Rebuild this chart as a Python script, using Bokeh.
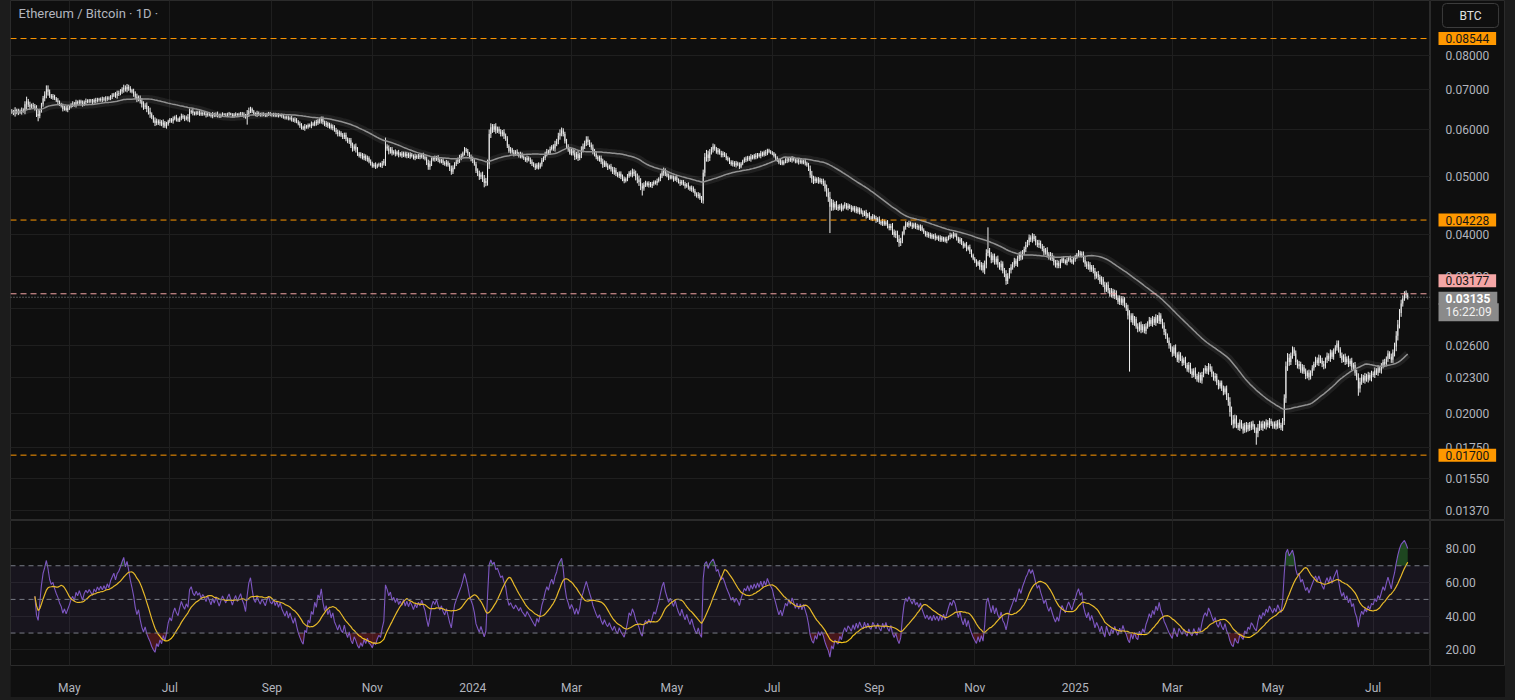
import numpy as np
import pandas as pd
from bokeh.plotting import figure
from bokeh.layouts import column, row
from bokeh.models import (Range1d, FixedTicker, Span, BoxAnnotation, Label, Grid,
                          ColumnDataSource, LogScale)
from bokeh.embed import file_html
from bokeh.resources import INLINE
from bokeh.core.properties import value

# ---------------------------------------------------------------- data
TITLE = "Ethereum / Bitcoin \u00b7 1D \u00b7"
FIRST_DAY = "2023-03-27"

# daily closes, ETH/BTC x 100000
closes_2023 = [
    6440, 6390, 6470, 6410, 6450,  # Mar 27-31
    6420, 6480, 6450, 6620, 6700, 6610, 6560, 6600, 6570, 6520, 6380, 6330, 6450, 6620, 6780,
    6880, 7020, 6950, 6850, 6800, 6830, 6770, 6720, 6680, 6620, 6580, 6500, 6540, 6480, 6520,  # Apr
    6560, 6610, 6640, 6600, 6680, 6650, 6700, 6660, 6620, 6680, 6710, 6690, 6720, 6700, 6680, 6730,
    6710, 6750, 6730, 6760, 6740, 6770, 6750, 6790, 6770, 6820, 6850, 6880, 6850, 6900, 6920,  # May
    6960, 7010, 7060, 7020, 7080, 7040, 6990, 6950, 6900, 6820, 6760, 6790, 6700, 6620, 6560,
    6590, 6500, 6440, 6380, 6290, 6220, 6160, 6210, 6150, 6190, 6120, 6170, 6080, 6130, 6200,  # Jun
    6240, 6200, 6260, 6300, 6250, 6220, 6280, 6330, 6290, 6260, 6300, 6270, 6420, 6450, 6400, 6380,
    6420, 6390, 6410, 6370, 6400, 6380, 6350, 6390, 6360, 6330, 6370, 6340, 6380, 6350, 6320,  # Jul
    6350, 6380, 6360, 6340, 6370, 6390, 6360, 6330, 6360, 6380, 6350, 6370, 6390, 6360, 6340, 6300,
    6380, 6460, 6500, 6440, 6380, 6360, 6400, 6370, 6350, 6380, 6360, 6340, 6370, 6390, 6360,  # Aug
    6350, 6370, 6340, 6360, 6330, 6350, 6320, 6300, 6280, 6300, 6260, 6280, 6250, 6220, 6240,
    6190, 6140, 6100, 6060, 6030, 6080, 6060, 6110, 6090, 6140, 6120, 6180, 6150, 6220, 6200,  # Sep
    6260, 6180, 6120, 6150, 6080, 6110, 6040, 6070, 5990, 5950, 5900, 5930, 5870, 5840, 5880, 5790,
    5730, 5760, 5640, 5580, 5620, 5560, 5470, 5420, 5450, 5380, 5420, 5350, 5380, 5300, 5270,  # Oct
    5210, 5240, 5200, 5230, 5250, 5220, 5270, 5310, 5620, 5580, 5520, 5560, 5480, 5510, 5460,
    5500, 5440, 5470, 5430, 5480, 5420, 5460, 5410, 5450, 5420, 5380, 5420, 5390, 5430, 5400,  # Nov
    5440, 5400, 5360, 5280, 5200, 5260, 5340, 5380, 5350, 5390, 5340, 5300, 5330, 5280, 5250, 5290,
    5230, 5160, 5100, 5180, 5260, 5300, 5340, 5380, 5420, 5480, 5560, 5520, 5470, 5400, 5360,  # Dec
]
closes_2024 = [
    5320, 5250, 5120, 5060, 5000, 5040, 4960, 4880, 4920, 5250, 5900, 6060, 6000, 6080, 5980, 6020,
    5960, 5900, 5940, 5860, 5800, 5640, 5520, 5560, 5500, 5460, 5510, 5470, 5420, 5460, 5400,  # Jan
    5370, 5330, 5380, 5340, 5300, 5260, 5220, 5180, 5240, 5190, 5250, 5330, 5380, 5460, 5520,
    5490, 5570, 5620, 5580, 5680, 5740, 5860, 5920, 5980, 5900, 5740, 5620, 5560, 5480,  # Feb
    5530, 5480, 5400, 5460, 5380, 5440, 5560, 5620, 5700, 5780, 5720, 5660, 5600, 5520, 5460, 5400,
    5350, 5380, 5300, 5240, 5280, 5220, 5180, 5210, 5150, 5100, 5130, 5060, 5020, 5060, 5000,  # Mar
    4960, 4920, 4960, 5010, 5080, 5050, 5100, 5060, 4990, 4950, 4900, 4820, 4780, 4850, 4880,
    4840, 4870, 4830, 4860, 4900, 4880, 4920, 4960, 5020, 5080, 5120, 5060, 5020, 4980, 5010,  # Apr
    4980, 4950, 4990, 4940, 4900, 4870, 4910, 4860, 4820, 4850, 4800, 4760, 4790, 4730, 4680, 4640,
    4670, 4600, 4560, 5080, 5400, 5450, 5380, 5500, 5560, 5620, 5580, 5500, 5540, 5480, 5440,  # May
    5470, 5430, 5380, 5340, 5300, 5250, 5280, 5230, 5270, 5240, 5200, 5260, 5310, 5360, 5340,
    5390, 5350, 5410, 5380, 5430, 5400, 5450, 5420, 5480, 5440, 5500, 5470, 5540, 5510, 5490,  # Jun
    5470, 5420, 5380, 5330, 5280, 5310, 5260, 5300, 5340, 5320, 5360, 5330, 5370, 5340, 5300, 5330,
    5290, 5320, 5280, 5310, 5270, 5230, 5160, 5040, 4960, 4920, 4960, 4910, 4950, 4900, 4920,  # Jul
    4870, 4780, 4700, 4620, 4450, 4520, 4440, 4500, 4450, 4420, 4470, 4410, 4460, 4490, 4430, 4470,
    4440, 4400, 4440, 4380, 4420, 4360, 4400, 4350, 4320, 4360, 4290, 4320, 4270, 4250, 4290,  # Aug
    4260, 4220, 4250, 4200, 4170, 4210, 4160, 4190, 4130, 4100, 4130, 4040, 3990, 4010, 3930,
    3870, 3900, 4010, 4110, 4170, 4140, 4180, 4150, 4120, 4160, 4110, 4130, 4090, 4120, 4070,  # Sep
    4030, 3990, 4010, 3970, 3990, 3950, 3980, 3940, 3960, 3920, 3950, 3910, 3940, 3900, 3930, 3960,
    3990, 3970, 4000, 3980, 3940, 3890, 3920, 3860, 3820, 3850, 3780, 3810, 3740, 3690, 3640,  # Oct
    3600, 3560, 3590, 3520, 3550, 3480, 3560, 3720, 3760, 3690, 3620, 3680, 3590, 3640, 3560,
    3520, 3570, 3470, 3430, 3340, 3400, 3480, 3520, 3560, 3610, 3570, 3640, 3700, 3660, 3730,  # Nov
    3780, 3840, 3880, 3950, 3920, 3970, 3930, 3880, 3840, 3870, 3820, 3780, 3730, 3760, 3700, 3660,
    3690, 3640, 3590, 3550, 3580, 3540, 3600, 3640, 3610, 3580, 3620, 3650, 3620, 3590, 3630,  # Dec
]
closes_2025 = [
    3660, 3700, 3730, 3690, 3710, 3620, 3570, 3530, 3560, 3490, 3520, 3470, 3400, 3430, 3390, 3330,
    3360, 3290, 3230, 3290, 3220, 3170, 3210, 3150, 3190, 3130, 3080, 3120, 3070, 3110, 3040,  # Jan
    3000, 2920, 2870, 2920, 2840, 2880, 2800, 2770, 2820, 2760, 2800, 2750, 2800, 2830,
    2870, 2830, 2880, 2840, 2900, 2860, 2920, 2850, 2810, 2740, 2700, 2650, 2600, 2560,  # Feb
    2520, 2580, 2510, 2460, 2510, 2470, 2430, 2460, 2410, 2370, 2410, 2350, 2320, 2360, 2310, 2280,
    2320, 2270, 2320, 2360, 2380, 2350, 2400, 2370, 2330, 2290, 2310, 2250, 2220, 2250, 2200,  # Mar
    2170, 2200, 2130, 2090, 2010, 1950, 1920, 1960, 1910, 1890, 1930, 1900, 1870, 1910, 1880,
    1910, 1890, 1920, 1900, 1870, 1850, 1890, 1920, 1890, 1920, 1900, 1930, 1910, 1940, 1920,  # Apr
    1900, 1920, 1900, 1930, 1910, 1890, 1940, 2120, 2400, 2480, 2440, 2500, 2560, 2520, 2440, 2400,
    2420, 2360, 2390, 2350, 2310, 2340, 2300, 2340, 2380, 2420, 2460, 2430, 2480, 2450, 2420,  # May
    2400, 2460, 2500, 2470, 2530, 2490, 2540, 2580, 2620, 2560, 2500, 2460, 2490, 2440, 2470,
    2420, 2450, 2390, 2410, 2340, 2300, 2200, 2260, 2300, 2270, 2310, 2280, 2320, 2290, 2330,  # Jun
    2320, 2360, 2340, 2380, 2360, 2400, 2440, 2420, 2470, 2520, 2490,
    2460, 2530, 2590, 2700, 2820, 2950, 3060, 3120, 3180, 3160, 3135,  # Jul 1-22
]

# estimated wick length beyond the candle body, one digit per day (x 0.3 % of price)
wick_2023 = [
    "32423",                                   # Mar 27-31
    "23246 34233 46323 45532 32232 23223",     # Apr
    "22323 22232 32223 23222 32322 23234 3",   # May
    "33434 33243 43344 34452 34323 24232",     # Jun
    "22323 22323 24523 22232 22322 23223 2",   # Jul
    "22122 21222 12223 25432 22322 22222 2",   # Aug
    "22222 12222 22323 22332 32223 22323",     # Sep
    "33232 32323 33233 32334 34323 23232 3",   # Oct
    "22322 23363 43323 23232 23232 23223",     # Nov
    "23234 43232 32232 32343 23343 23232 3",   # Dec
]
wick_2024 = [
    "32334 34546 65434 33334 33232 32323 2",   # Jan
    "22323 32323 23233 23234 34543 3332",      # Feb
    "33434 34434 43343 32334 32323 34323 3",   # Mar
    "33232 34345 55433 23232 23233 43232",     # Apr
    "23232 32232 32323 23234 56543 43232 3",   # May
    "32323 23232 32223 22322 32232 23222",     # Jun
    "22322 32223 22322 23222 32345 43232 3",   # Jul
    "34567 54343 23232 32322 32323 23232 3",   # Aug
    "23232 32233 34344 54323 23232 23232",     # Sep
    "22323 22322 32223 23232 32323 23233 2",   # Oct
    "23234 35543 43334 34345 43434 34343",     # Nov
    "34343 43434 33434 34343 43323 23232 3",   # Dec
]
wick_2025 = [
    "32323 34343 33434 34343 43434 33434 3",   # Jan
    "35733 43434 33434 34343 43444 343",       # Feb
    "43434 34343 43434 34343 43434 34343 3",   # Mar
    "43456 76543 43434 34343 45434 34343",     # Apr
    "33434 34566 54434 34343 43434 34343 4",   # May
    "43434 34344 34343 43434 45543 43434",     # Jun
    "34343 43434 34456 65543 43",              # Jul 1-22
]

# long wicks that stand out
wick_dates = ["2023-04-12", "2023-08-17", "2023-11-09", "2024-01-08", "2024-04-13",
              "2024-08-05", "2024-11-09", "2025-02-03", "2025-04-21", "2025-06-22"]
wick_prices = [0.0620, 0.0612, 0.0582, 0.0480, 0.0465,
               0.0402, 0.0411, 0.0235, 0.0177, 0.0214]

level_prices = [0.08544, 0.04228, 0.01700]
alert_price = 0.03177
countdown = "16:22:09"
price_ticks = [0.0137, 0.0155, 0.0175, 0.020, 0.023, 0.026, 0.030, 0.034,
               0.040, 0.050, 0.060, 0.070, 0.080]
rsi_ticks = [20, 40, 60, 80]
rsi_levels = [30, 50, 70]
time_tick_dates = ["2023-05-01", "2023-07-01", "2023-09-01", "2023-11-01", "2024-01-01",
                   "2024-03-01", "2024-05-01", "2024-07-01", "2024-09-01", "2024-11-01",
                   "2025-01-01", "2025-03-01", "2025-05-01", "2025-07-01"]
time_tick_labels = ["May", "Jul", "Sep", "Nov", "2024", "Mar", "May", "Jul", "Sep", "Nov",
                    "2025", "Mar", "May", "Jul"]
MA_LEN = 50
RSI_LEN = 14
RSI_MA_LEN = 14

# ---------------------------------------------------------------- derived series
closes = closes_2023 + closes_2024 + closes_2025
n = len(closes)
dates = pd.date_range(FIRST_DAY, periods=n, freq="D")
cl = np.array(closes, dtype=float) / 1e5
op = np.r_[cl[0], cl[:-1]]
body_top = np.maximum(op, cl)
body_bot = np.minimum(op, cl)

wk = [int(c) for c in "".join(wick_2023 + wick_2024 + wick_2025).replace(" ", "")]
wk = np.array((wk + [2] * n)[:n], dtype=float) * 0.003
hi = body_top * (1 + wk)
lo = body_bot * (1 - wk)
for d, pr in zip(wick_dates, wick_prices):
    i = dates.get_loc(pd.Timestamp(d))
    if pr < lo[i]:
        lo[i] = pr
    else:
        hi[i] = max(hi[i], pr)

s = pd.Series(cl)
ma = s.rolling(MA_LEN, min_periods=1).mean().values
delta = s.diff().fillna(0)
avg_g = delta.clip(lower=0).ewm(alpha=1.0 / RSI_LEN, adjust=False).mean()
avg_l = (-delta.clip(upper=0)).ewm(alpha=1.0 / RSI_LEN, adjust=False).mean()
rsi = (100 - 100 / (1 + avg_g / avg_l)).values
rsi[:RSI_LEN] = np.nan
rsi_ma = pd.Series(rsi).rolling(RSI_MA_LEN, min_periods=1).mean().values

tick_ms = [pd.Timestamp(d).value // 10**6 for d in time_tick_dates]

# ---------------------------------------------------------------- style
BG = "#0f0f0f"
GRID = "#1f1f1f"
FRAME = "#2b2b2b"
TXT = "#b2b5be"
FONT = "Roboto"
CANDLE = "#f0f0f0"
ORANGE = "#ff9800"
MAIN_W = 1420
AX_W = 75
H1 = 520
H2 = 177
XB = 29  # time-axis strip

xr = Range1d(pd.Timestamp("2023-03-26 05:00"), pd.Timestamp("2025-08-04 20:00"))
yr1 = Range1d(0.013196, 0.09901)
yr2 = Range1d(10.7, 96.9)


def drop_default_grids(f):
    f.center = [c for c in f.center if not isinstance(c, Grid)]


def base_fig(w, h, yr, log=False, bottom=0, xrange=None):
    f = figure(width=w, height=h, x_range=xrange, y_range=yr,
               x_axis_type="datetime" if xrange is xr else "linear",
               y_axis_type="log" if log else "linear",
               x_axis_location=None, y_axis_location=None,
               output_backend="svg", toolbar_location=None,
               background_fill_color=BG, border_fill_color=BG,
               min_border_left=0, min_border_right=0, min_border_top=0,
               min_border_bottom=bottom, outline_line_color=FRAME)
    drop_default_grids(f)
    return f


# ---------------------------------------------------------------- price pane
p1 = base_fig(MAIN_W, H1, yr1, log=True, xrange=xr)
p1.add_layout(Grid(dimension=0, ticker=FixedTicker(ticks=tick_ms), grid_line_color=GRID))
p1.add_layout(Grid(dimension=1, ticker=FixedTicker(ticks=price_ticks), grid_line_color=GRID))

src = ColumnDataSource(dict(x=dates, lo=lo, hi=hi, top=body_top, bot=body_bot))
p1.segment(x0="x", y0="lo", x1="x", y1="hi", source=src, line_color=CANDLE, line_width=1)
p1.vbar(x="x", top="top", bottom="bot", width=0.5 * 86400000, source=src,
        fill_color=CANDLE, line_color=None)
p1.line(dates, ma, line_width=8, line_color="#9e9e9e", line_alpha=0.12)
p1.line(dates, ma, line_width=1.5, line_color="#929292")

for lv in level_prices:
    p1.add_layout(Span(location=lv, dimension="width", line_color=ORANGE,
                       line_dash="6 4", line_width=1))
p1.add_layout(Span(location=alert_price, dimension="width", line_color="#f5a6a6",
                   line_dash="6 4", line_width=1))
p1.add_layout(Span(location=cl[-1], dimension="width", line_color="#a0a0a0",
                   line_dash="1 2", line_width=1))
p1.add_layout(Label(x=8, y=H1 - 13, x_units="screen", y_units="screen", text=TITLE,
                    text_align="left", text_baseline="middle", text_font=FONT,
                    text_font_size="13px", text_color=TXT))

# price scale (right strip)
p1r = base_fig(AX_W, H1, yr1, log=True, xrange=Range1d(0, AX_W))
p1r.y_scale = LogScale()
p1r.text(x=[15] * len(price_ticks), y=price_ticks,
         text=[f"{t:.5f}" for t in price_ticks], text_font=value(FONT),
         text_font_size="12px", text_color=TXT, text_align="left", text_baseline="middle")


def axis_box(y, text, bg, fg, y_off=0, bold=False):
    return Label(x=8, y=y, x_units="screen", y_units="data", text=text,
                 y_offset=y_off, text_align="left", text_baseline="middle",
                 text_font=FONT, text_font_size="12px", text_color=fg,
                 text_font_style="bold" if bold else "normal",
                 background_fill_color=bg, padding=(7, 2))


for lv in level_prices:
    p1r.add_layout(axis_box(lv, f"{lv:.5f}", ORANGE, "#151515"))
p1r.add_layout(axis_box(alert_price, f"{alert_price:.5f}", "#f5a6a6", "#151515", y_off=13))
p1r.add_layout(axis_box(cl[-1], f"{cl[-1]:.5f}", "#8a8a8a", "#ffffff", y_off=-1, bold=True))
p1r.add_layout(axis_box(cl[-1], countdown, "#8a8a8a", "#f0f0f0", y_off=-15))
p1r.add_layout(Label(x=40, y=H1 - 15, x_units="screen", y_units="screen",
                     text="BTC", text_align="center", text_baseline="middle",
                     text_font=FONT, text_font_size="12px", text_color="#e0e0e0",
                     background_fill_color=BG, border_line_color="#3c3c3c",
                     border_line_width=1, border_radius=4, padding=(17, 5)))

# ---------------------------------------------------------------- RSI pane
p2 = figure(width=MAIN_W, height=H2, x_axis_type="datetime", x_range=xr, y_range=yr2,
            y_axis_location=None, output_backend="svg", toolbar_location=None,
            background_fill_color=BG, border_fill_color=BG,
            min_border_left=0, min_border_right=0, min_border_top=0,
            min_border_bottom=XB, outline_line_color=FRAME)
drop_default_grids(p2)
xt = FixedTicker(ticks=tick_ms)
p2.xaxis.ticker = xt
p2.xaxis.major_label_overrides = {ms: lb for ms, lb in zip(tick_ms, time_tick_labels)}
p2.xaxis.axis_line_color = None
p2.xaxis.major_tick_line_color = None
p2.xaxis.minor_tick_line_color = None
p2.xaxis.major_label_text_color = TXT
p2.xaxis.major_label_text_font = FONT
p2.xaxis.major_label_text_font_size = "12px"
p2.xaxis.major_label_standoff = 9
p2.add_layout(Grid(dimension=0, ticker=xt, grid_line_color=GRID))
p2.add_layout(Grid(dimension=1, ticker=FixedTicker(ticks=rsi_ticks), grid_line_color=GRID))

p2.add_layout(BoxAnnotation(bottom=rsi_levels[0], top=rsi_levels[-1], fill_color="#7e57c2",
                            fill_alpha=0.09, line_color=None))
for lv in rsi_levels:
    p2.add_layout(Span(location=lv, dimension="width", line_color="#787b86",
                       line_dash="5 4", line_width=1))
ob = np.where(np.isnan(rsi), rsi_levels[-1], np.maximum(rsi, rsi_levels[-1]))
os_ = np.where(np.isnan(rsi), rsi_levels[0], np.minimum(rsi, rsi_levels[0]))
p2.varea(x=dates, y1=np.full(n, rsi_levels[-1]), y2=ob, fill_color="#2e7d32", fill_alpha=0.5)
p2.varea(x=dates, y1=os_, y2=np.full(n, rsi_levels[0]), fill_color="#b22833", fill_alpha=0.35)
p2.line(dates, rsi, line_color="#7e57c2", line_width=1.1)
p2.line(dates, rsi_ma, line_color="#f2c31b", line_width=1.2)

p2r = base_fig(AX_W, H2, yr2, bottom=XB, xrange=Range1d(0, AX_W))
p2r.text(x=[15] * len(rsi_ticks), y=rsi_ticks, text=[f"{t:.2f}" for t in rsi_ticks],
         text_font=value(FONT), text_font_size="12px", text_color=TXT,
         text_align="left", text_baseline="middle")

layout = column(row(p1, p1r, spacing=0), row(p2, p2r, spacing=0),
                spacing=0, margin=(0, 8, 1, 10))
html = file_html(layout, INLINE, title="Ethereum / Bitcoin")
html = html.replace("</head>", "<style>body{background:#1c1c1c;}</style></head>", 1)
open("out.html", "w").write(html)
